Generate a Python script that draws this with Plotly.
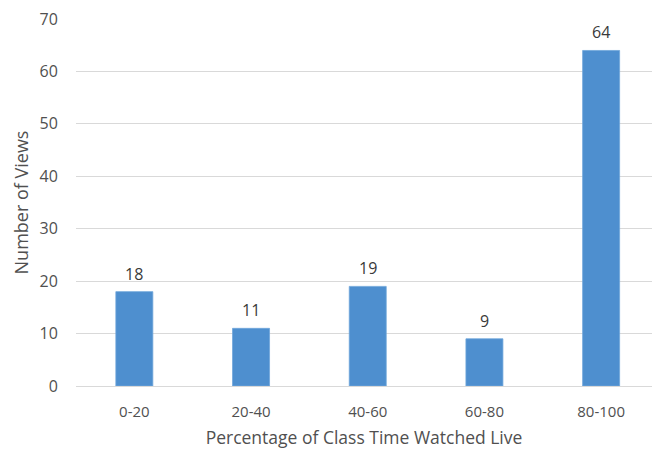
import plotly.graph_objects as go

# Share of live class time watched, binned in 20% steps
categories = ["0-20", "20-40", "40-60", "60-80", "80-100"]
views = [18, 11, 19, 9, 64]
y_ticks = [0, 10, 20, 30, 40, 50, 60, 70]

bar_color = "#4E8FCF"
text_color = "#3A3A3A"
tick_color = "#505050"
grid_color = "#D9D9D9"
font_family = "Open Sans, Liberation Sans, sans-serif"

fig = go.Figure()
fig.add_trace(go.Bar(
    x=list(range(len(categories))),
    y=views,
    width=0.317,
    marker=dict(color=bar_color, line=dict(color="#6FA6DA", width=0.8)),
    hoverinfo="skip",
))

# Value labels above each bar
for i, v in enumerate(views):
    fig.add_annotation(
        x=i, y=v, text=str(v), showarrow=False,
        yanchor="middle", yshift=18,
        font=dict(family=font_family, size=16, color=text_color),
    )

fig.update_layout(
    width=652, height=449,
    margin=dict(l=76, r=0, t=19, b=63),
    paper_bgcolor="white", plot_bgcolor="white",
    showlegend=False,
    font=dict(family=font_family, color=tick_color),
    xaxis=dict(
        range=[-0.5, 4.436],
        tickmode="array",
        tickvals=list(range(len(categories))),
        ticktext=categories,
        showgrid=False, zeroline=False,
        showline=False,
        ticks="outside", ticklen=12, tickcolor="rgba(0,0,0,0)",
        tickfont=dict(size=15, color=tick_color),
        title=dict(text="Percentage of Class Time Watched Live",
                   font=dict(size=17.5, color=tick_color), standoff=13),
    ),
    yaxis=dict(
        range=[0, 70],
        tickmode="array",
        tickvals=y_ticks,
        showgrid=True, gridcolor=grid_color, gridwidth=1,
        zeroline=True, zerolinecolor=grid_color, zerolinewidth=1,
        ticks="outside", ticklen=14, tickcolor="rgba(0,0,0,0)",
        tickfont=dict(size=16, color=tick_color),
        title=dict(text="Number of Views",
                   font=dict(size=18, color=tick_color), standoff=6),
    ),
)

fig.write_html("out.html")
